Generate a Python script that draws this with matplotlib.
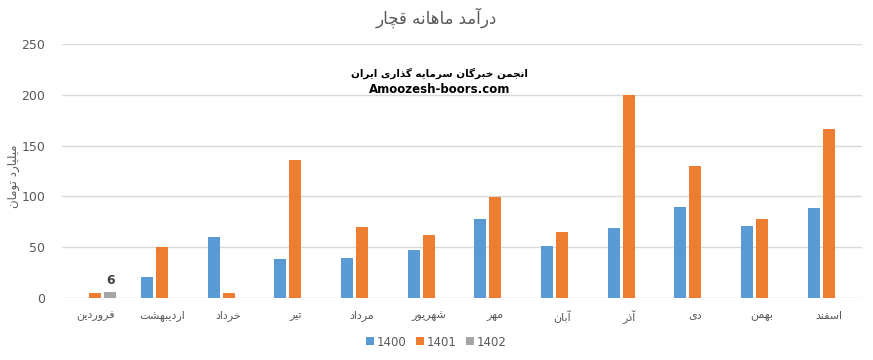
import numpy as np
import matplotlib
matplotlib.use("Agg")
import matplotlib.pyplot as plt

# monthly revenue, billion toman
months = ["فروردین", "اردیبهشت", "خرداد", "تیر", "مرداد", "شهریور",
          "مهر", "آبان", "آذر", "دی", "بهمن", "اسفند"]
rev_1400 = [0, 21, 60, 38, 39, 47, 78, 51, 69, 90, 71, 89]
rev_1401 = [5, 50, 5, 136, 70, 62, 99, 65, 200, 130, 78, 166]
rev_1402 = [6, 0, 0, 0, 0, 0, 0, 0, 0, 0, 0, 0]
series_names = ["1400", "1401", "1402"]
y_ticks = [0, 50, 100, 150, 200, 250]

title = "درآمد ماهانه قچار"
y_label = "میلیارد تومان"
watermark = "انجمن خبرگان سرمایه گذاری ایران"
site = "Amoozesh-boors.com"

# presentation forms: isolated, final, initial, medial
FORMS = {
    "ا": "\uFE8D\uFE8E", "آ": "\uFE81\uFE82",
    "ب": "\uFE8F\uFE90\uFE91\uFE92", "پ": "\uFB56\uFB57\uFB58\uFB59",
    "ت": "\uFE95\uFE96\uFE97\uFE98", "ج": "\uFE9D\uFE9E\uFE9F\uFEA0",
    "چ": "\uFB7A\uFB7B\uFB7C\uFB7D", "خ": "\uFEA5\uFEA6\uFEA7\uFEA8",
    "د": "\uFEA9\uFEAA", "ذ": "\uFEAB\uFEAC", "ر": "\uFEAD\uFEAE",
    "ز": "\uFEAF\uFEB0", "ژ": "\uFB8A\uFB8B",
    "س": "\uFEB1\uFEB2\uFEB3\uFEB4", "ش": "\uFEB5\uFEB6\uFEB7\uFEB8",
    "ف": "\uFED1\uFED2\uFED3\uFED4", "ق": "\uFED5\uFED6\uFED7\uFED8",
    "ک": "\uFB8E\uFB8F\uFB90\uFB91", "گ": "\uFB92\uFB93\uFB94\uFB95",
    "ل": "\uFEDD\uFEDE\uFEDF\uFEE0", "م": "\uFEE1\uFEE2\uFEE3\uFEE4",
    "ن": "\uFEE5\uFEE6\uFEE7\uFEE8", "و": "\uFEED\uFEEE",
    "ه": "\uFEE9\uFEEA\uFEEB\uFEEC", "ی": "\uFBFC\uFBFD\uFBFE\uFBFF",
}


def fa(text):
    out = []
    for i, ch in enumerate(text):
        f = FORMS.get(ch)
        if f is None:
            out.append(ch)
            continue
        prev = text[i - 1] if i > 0 else ""
        nxt = text[i + 1] if i + 1 < len(text) else ""
        join_prev = prev in FORMS and len(FORMS[prev]) == 4
        join_next = len(f) == 4 and nxt in FORMS
        if join_prev and join_next:
            out.append(f[3])
        elif join_prev:
            out.append(f[1])
        elif join_next:
            out.append(f[2])
        else:
            out.append(f[0])
    return "".join(out)[::-1]


plt.rcParams["font.family"] = ["DejaVu Sans"]

fig = plt.figure(figsize=(8.73, 3.6), dpi=100)
ax = fig.add_axes([0.071, 0.1722, 0.9163, 0.7056])

colors = ["#5B9BD5", "#ED7D31", "#A5A5A5"]
x = np.arange(len(months))
w = 0.18
step = 0.225
for k, (vals, c, name) in enumerate(zip([rev_1400, rev_1401, rev_1402], colors, series_names)):
    ax.bar(x + (k - 1) * step, vals, width=w, color=c, label=name, zorder=3)

ax.text(x[0] + step, rev_1402[0] + 5, str(rev_1402[0]), ha="center", va="bottom",
        fontsize=9, fontweight="bold", color="#404040")

ax.set_xlim(-0.5, len(months) - 0.5)
ax.set_ylim(0, 250)
ax.set_yticks(y_ticks)
ax.set_xticks(x)
ax.set_xticklabels([fa(m) for m in months], fontsize=8, color="#595959")
ax.tick_params(axis="both", length=0)
ax.tick_params(axis="y", labelsize=9, labelcolor="#595959", pad=12)
ax.tick_params(axis="x", pad=9)
ax.grid(axis="y", color="#D9D9D9", linewidth=1, zorder=0)
for s in ax.spines.values():
    s.set_visible(False)

ax.set_ylabel(fa(y_label), fontsize=8.5, color="#595959")
ax.yaxis.set_label_coords(-0.052, 0.48)
fig.text(0.5, 0.95, fa(title), ha="center", va="center", fontsize=12, color="#595959")

ax.text(0.472, 0.885, fa(watermark), transform=ax.transAxes, ha="center", va="center",
        fontsize=7.5, fontweight="bold", color="black")
ax.text(0.472, 0.82, site, transform=ax.transAxes, ha="center", va="center",
        fontsize=8.5, fontweight="bold", color="black")

leg = fig.legend(*ax.get_legend_handles_labels(), loc="center", bbox_to_anchor=(0.5, 0.05),
                 ncol=3, frameon=False, fontsize=8.5, handlelength=0.65, handleheight=0.65,
                 handletextpad=0.25, columnspacing=0.8)
for t in leg.get_texts():
    t.set_color("#595959")

fig.savefig("out.png", dpi=100)
